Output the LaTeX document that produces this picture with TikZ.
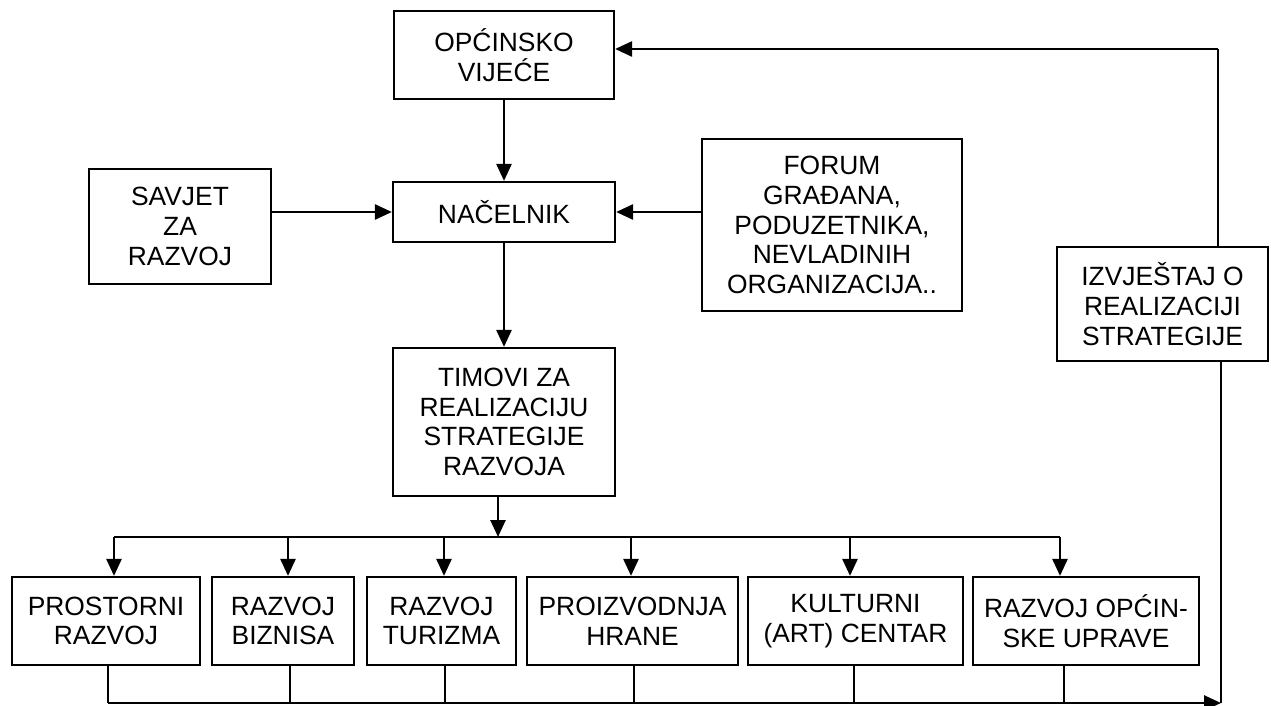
\documentclass[tikz,border=0pt]{standalone}
\usepackage{fontspec}
\setmainfont{Liberation Sans}
\usetikzlibrary{arrows.meta}
\begin{document}
\begin{tikzpicture}[x=0.5pt,y=-0.5pt,
  box/.style={draw,line width=1.1pt,inner sep=0pt,align=center,
    font=\fontsize{13.2}{14.8}\selectfont},
  conn/.style={line width=1.3pt,-{Triangle[length=8.5pt,width=7.5pt]}},
  thickline/.style={line width=1.3pt},
  thinline/.style={line width=0.7pt}]
\useasboundingbox (0,0) rectangle (1271,706);
% nodes
\node[box,minimum width=110pt,minimum height=44pt] (vij) at (504,55) {OPĆINSKO\\VIJEĆE};
\node[box,minimum width=111pt,minimum height=30pt] (nac) at (504,212) {NAČELNIK};
\node[box,minimum width=91pt,minimum height=57.5pt] (sav) at (180,226.5) {SAVJET\\ZA\\RAZVOJ};
\node[box,minimum width=130pt,minimum height=86pt] (forum) at (832,225) {FORUM\\GRAĐANA,\\PODUZETNIKA,\\NEVLADINIH\\ORGANIZACIJA..};
\node[box,minimum width=105.5pt,minimum height=57pt] (izv) at (1162.5,304) {IZVJEŠTAJ O\\REALIZACIJI\\STRATEGIJE};
\node[box,minimum width=111pt,minimum height=74pt] (tim) at (504,422) {TIMOVI ZA\\REALIZACIJU\\STRATEGIJE\\RAZVOJA};
\node[box,minimum width=94pt,minimum height=44pt] (p1) at (106,621) {PROSTORNI\\RAZVOJ};
\node[box,minimum width=71pt,minimum height=44pt] (p2) at (283,621) {RAZVOJ\\BIZNISA};
\node[box,minimum width=74.5pt,minimum height=44pt] (p3) at (441.5,621) {RAZVOJ\\TURIZMA};
\node[box,minimum width=105.5pt,minimum height=44pt] (p4) at (632.5,621) {PROIZVODNJA\\HRANE};
\node[box,minimum width=107.5pt,minimum height=44pt] (p5) at (855.5,621) {KULTURNI\\(ART) CENTAR};
\node[box,minimum width=113pt,minimum height=44pt] (p6) at (1086,621) {RAZVOJ OPĆIN-\\SKE UPRAVE};
% helper coordinates
\coordinate (j) at (498,537);
\coordinate (a1) at (114,537);
\coordinate (a2) at (288,537);
\coordinate (a3) at (444,537);
\coordinate (a4) at (631,537);
\coordinate (a5) at (850,537);
\coordinate (a6) at (1060,537);
\coordinate (b1) at (108,703);
\coordinate (b2) at (290,703);
\coordinate (b3) at (445,703);
\coordinate (b4) at (634,703);
\coordinate (b5) at (854,703);
\coordinate (b6) at (1064,703);
\coordinate (br) at (1221,703);
\coordinate (tr) at (1218,49);
% upper connectors
\draw[conn] (vij.south) -- (nac.north);
\draw[conn] (sav.east |- nac) -- (nac.west);
\draw[conn] (forum.west |- nac) -- (nac.east);
\draw[conn] (nac.south) -- (tim.north);
\draw[conn] (tim.south -| j) -- (j);
% distribution
\draw[thickline] (a1) -- (a6);
\draw[conn] (a1) -- (a1 |- p1.north);
\draw[conn] (a2) -- (a2 |- p2.north);
\draw[conn] (a3) -- (a3 |- p3.north);
\draw[conn] (a4) -- (a4 |- p4.north);
\draw[conn] (a5) -- (a5 |- p5.north);
\draw[conn] (a6) -- (a6 |- p6.north);
% collection
\draw[thinline] (b1 |- p1.south) -- (b1);
\draw[thinline] (b2 |- p2.south) -- (b2);
\draw[thinline] (b3 |- p3.south) -- (b3);
\draw[thinline] (b4 |- p4.south) -- (b4);
\draw[thinline] (b5 |- p5.south) -- (b5);
\draw[thinline] (b6 |- p6.south) -- (b6);
\draw[conn] (b1) -- (br);
\draw[thickline] (br |- izv.south) -- (br);
% feedback
\draw[thinline] (tr |- izv.north) -- (tr);
\draw[conn] (tr) -- (vij.east |- tr);
\end{tikzpicture}
\end{document}
